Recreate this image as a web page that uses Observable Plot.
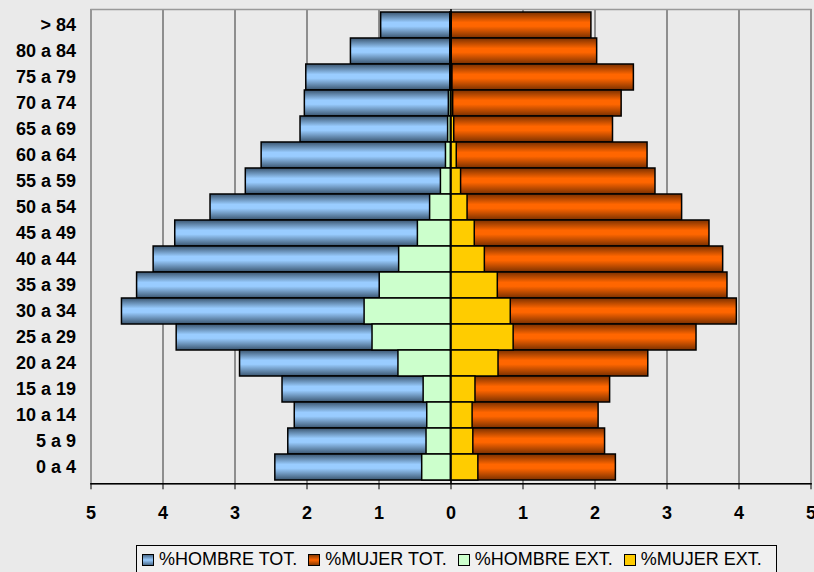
<!DOCTYPE html>
<html><head><meta charset="utf-8">
<script src="https://cdn.jsdelivr.net/npm/d3@7"></script>
<script src="https://cdn.jsdelivr.net/npm/@observablehq/plot@0.6"></script>
<style>
html,body{margin:0;padding:0;background:#eaeaea;}
body{width:814px;height:572px;overflow:hidden;position:relative;font-family:"Liberation Sans",Arial,sans-serif;}
#chart{position:absolute;left:0;top:0;}
#legend{position:absolute;left:136px;top:545px;width:641px;height:40px;border:1px solid #000;background:#f0f0f0;box-sizing:border-box;display:flex;align-items:flex-start;padding:4px 0 0 5px;font-size:18px;line-height:18px;color:#000;white-space:nowrap;}
.item{display:flex;align-items:center;margin-right:11px;}
.sw{width:10px;height:10px;border:1px solid #000;margin-right:5px;margin-top:1px;}
</style>
</head><body>
<div id="chart"></div>
<div id="legend"></div>
<script>
const ages = ["> 84","80 a 84","75 a 79","70 a 74","65 a 69","60 a 64","55 a 59","50 a 54","45 a 49","40 a 44","35 a 39","30 a 34","25 a 29","20 a 24","15 a 19","10 a 14","5 a 9","0 a 4"];
const hombreTot = [0.97,1.39,2.01,2.03,2.09,2.63,2.85,3.34,3.83,4.13,4.36,4.57,3.81,2.93,2.34,2.17,2.26,2.44];
const mujerTot  = [1.95,2.03,2.54,2.37,2.25,2.73,2.84,3.21,3.59,3.78,3.84,3.97,3.41,2.74,2.21,2.05,2.14,2.29];
const hombreExt = [0.01,0.01,0.01,0.03,0.04,0.07,0.14,0.29,0.46,0.72,0.99,1.20,1.09,0.73,0.38,0.33,0.34,0.40];
const mujerExt  = [0.01,0.01,0.02,0.03,0.045,0.08,0.14,0.23,0.33,0.47,0.65,0.83,0.87,0.66,0.34,0.30,0.31,0.38];
const xTicks = [-5,-4,-3,-2,-1,0,1,2,3,4,5];
const seriesNames = ["%HOMBRE TOT.","%MUJER TOT.","%HOMBRE EXT.","%MUJER EXT."];

const rows = ages.map((a,i)=>({age:a, ht:-hombreTot[i], mt:mujerTot[i], he:-hombreExt[i], me:mujerExt[i]}));

const H = 540;
const svg = Plot.plot({
  width: 814, height: H,
  marginLeft: 90.5, marginRight: 3.5, marginTop: 9, marginBottom: H - 483.3,
  style: {background:"#eaeaea", fontFamily:'"Liberation Sans",Arial,sans-serif', fontSize:"18px", fontWeight:"bold", color:"#000"},
  x: {domain:[-5,5], axis:null, label:null},
  y: {domain: ages, padding:0, axis:null, label:null},
  marks: [
    Plot.ruleX(xTicks, {stroke:"#333", strokeWidth:1}),
    Plot.frame({stroke:"#999", strokeWidth:1.5}),
    Plot.barX(rows, {y:"age", x1:0, x2:"ht", fill:"url(#gBlue)", stroke:"#000", strokeWidth:1.5}),
    Plot.barX(rows, {y:"age", x1:0, x2:"mt", fill:"url(#gOrange)", stroke:"#000", strokeWidth:1.5}),
    Plot.barX(rows, {y:"age", x1:0, x2:"he", fill:"#ccffcc", stroke:"#000", strokeWidth:1.5}),
    Plot.barX(rows, {y:"age", x1:0, x2:"me", fill:"#ffcc00", stroke:"#000", strokeWidth:1.5}),
    Plot.ruleX([0], {stroke:"#000", strokeWidth:1.5}),
    Plot.frame({anchor:"bottom", stroke:"#000", strokeWidth:1.5}),
    Plot.axisX({ticks:xTicks, tickFormat:d=>Math.abs(d), tickSize:6, tickPadding:16, stroke:"#000", fill:"#000", fontSize:18, fontWeight:"bold", label:null}),
    Plot.axisY({tickSize:0, tickPadding:15, fill:"#000", fontSize:18, fontWeight:"bold", label:null})
  ]
});
const defs = d3.select(svg).insert("defs", ":first-child");
function grad(id, edge, mid){
  const g = defs.append("linearGradient").attr("id", id).attr("x1",0).attr("y1",0).attr("x2",0).attr("y2",1);
  [[0,edge],[0.4,mid],[0.55,mid],[1,edge]].forEach(([o,c])=>g.append("stop").attr("offset",o).attr("stop-color",c));
}
grad("gBlue", "#3a556f", "#99ccff");
grad("gOrange", "#7a3000", "#ff6600");
document.getElementById("chart").appendChild(svg);

const swatches = ["linear-gradient(#4a6a8a,#99ccff 50%,#4a6a8a)","linear-gradient(#8a3a00,#ff6600 50%,#8a3a00)","#ccffcc","#ffcc00"];
const leg = document.getElementById("legend");
seriesNames.forEach((n,i)=>{
  const it = document.createElement("div"); it.className="item";
  const s = document.createElement("div"); s.className="sw"; s.style.background = swatches[i];
  const t = document.createElement("span"); t.textContent = n;
  it.appendChild(s); it.appendChild(t); leg.appendChild(it);
});
</script>
</body></html>
